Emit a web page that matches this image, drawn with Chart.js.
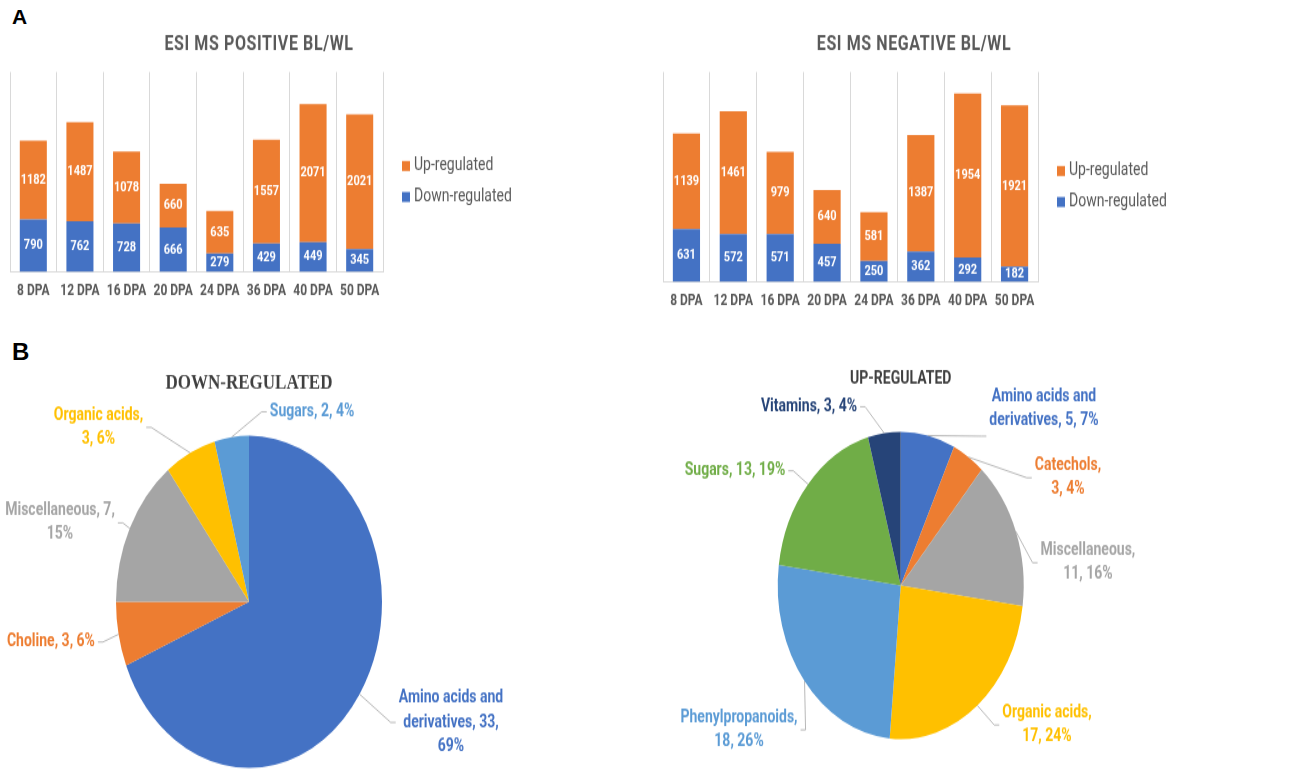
<!DOCTYPE html>
<html>
<head>
<meta charset="utf-8">
<script src="https://cdn.jsdelivr.net/npm/chart.js@4.4.1/dist/chart.umd.min.js"></script>
<style>
  body { margin: 0; background: #fff; width: 1299px; height: 781px; position: relative; overflow: hidden; }
  canvas { position: absolute; }
  .panel-letter { position: absolute; font-family: "Liberation Sans", Arial, sans-serif; font-weight: bold; color: #000; line-height: 1; }
</style>
</head>
<body>
<div class="panel-letter" style="left:12px;top:6px;font-size:21px">A</div>
<div class="panel-letter" style="left:12px;top:340px;font-size:24px">B</div>
<!-- the source figure is stretched vertically, so each canvas is drawn short and shown 1.25x taller -->
<canvas id="barPos" width="520" height="248" style="left:0;top:0;width:520px;height:310px"></canvas>
<canvas id="barNeg" width="520" height="256" style="left:655px;top:0;width:520px;height:320px"></canvas>
<canvas id="pieDown" width="530" height="353" style="left:0;top:340px;width:530px;height:441.25px"></canvas>
<canvas id="pieUp" width="500" height="353" style="left:652px;top:340px;width:500px;height:441.25px"></canvas>
<script>
const dpaLabels = ["8 DPA", "12 DPA", "16 DPA", "20 DPA", "24 DPA", "36 DPA", "40 DPA", "50 DPA"]
const posUp = [1182, 1487, 1078, 660, 635, 1557, 2071, 2021]
const posDown = [790, 762, 728, 666, 279, 429, 449, 345]
const negUp = [1139, 1461, 979, 640, 581, 1387, 1954, 1921]
const negDown = [631, 572, 571, 457, 250, 362, 292, 182]

const downClasses = ["Amino acids and derivatives", "Choline", "Miscellaneous", "Organic acids", "Sugars"]
const downCounts = [33, 3, 7, 3, 2]
const upClasses = ["Amino acids and derivatives", "Catechols", "Miscellaneous", "Organic acids", "Phenylpropanoids", "Sugars", "Vitamins"]
const upCounts = [5, 3, 11, 17, 18, 13, 3]

const BLUE = "#4472C4", ORANGE = "#ED7D31", GRAY = "#A5A5A5", GOLD = "#FFC000"
const LIGHTBLUE = "#5B9BD5", GREEN = "#70AD47", NAVY = "#264478"

Chart.defaults.font.family = "Roboto"

// value labels, title and legend for the stacked bars
const barDecor = {
  id: "barDecor",
  afterDatasetsDraw(chart, args, opts) {
    const ctx = chart.ctx
    ctx.save()
    ctx.textAlign = "center"
    ctx.textBaseline = "middle"
    ctx.font = "bold 11px Roboto"
    ctx.fillStyle = "#fff"
    chart.data.datasets.forEach((ds, di) => {
      chart.getDatasetMeta(di).data.forEach((bar, i) => {
        ctx.fillText(ds.data[i], bar.x, (bar.y + bar.base) / 2)
      })
    })

    ctx.font = "bold 16px Roboto"
    ctx.fillStyle = "#595959"
    if ("letterSpacing" in ctx) ctx.letterSpacing = "0.6px"
    ctx.fillText(opts.title, opts.titleX, opts.titleY)
    if ("letterSpacing" in ctx) ctx.letterSpacing = "0px"

    // legend lists Up-regulated first
    ctx.font = "14px Roboto"
    ctx.textAlign = "left"
    const items = [...chart.data.datasets].reverse()
    items.forEach((ds, k) => {
      const y = opts.legendY + k * opts.legendGap
      ctx.fillStyle = ds.backgroundColor
      ctx.fillRect(opts.legendX, y - 4, 8, 8)
      ctx.fillStyle = "#595959"
      ctx.fillText(ds.label, opts.legendX + 12, y)
    })
    ctx.restore()
  }
}

function wrapText(ctx, text, maxWidth) {
  const words = text.split(" ")
  const lines = []
  let line = ""
  words.forEach(w => {
    const test = line ? line + " " + w : w
    if (line && ctx.measureText(test).width > maxWidth) {
      lines.push(line)
      line = w
    } else {
      line = test
    }
  })
  if (line) lines.push(line)
  return lines
}

// outside labels with leader lines, like Excel's data callouts
const pieLabels = {
  id: "pieLabels",
  afterDatasetsDraw(chart, args, opts) {
    const ctx = chart.ctx
    const ds = chart.data.datasets[0]
    const total = ds.data.reduce((a, b) => a + b, 0)
    ctx.save()
    ctx.font = "bold 14px Roboto"
    ctx.textAlign = "center"
    ctx.textBaseline = "middle"
    chart.getDatasetMeta(0).data.forEach((arc, i) => {
      const mid = (arc.startAngle + arc.endAngle) / 2
      const ax = arc.x + arc.outerRadius * Math.cos(mid)
      const ay = arc.y + arc.outerRadius * Math.sin(mid)
      const pct = Math.round(ds.data[i] / total * 100)
      const text = `${chart.data.labels[i]}, ${ds.data[i]}, ${pct}%`
      const lines = wrapText(ctx, text, opts.wrap[i])
      const [dx, dy, attachDy = 0] = opts.offsets[i]
      const cx = ax + dx
      const cy = ay + dy
      const w = Math.max(...lines.map(l => ctx.measureText(l).width))
      const dir = dx > 0 ? 1 : -1
      const sideX = cx - dir * (w / 2 + 3)
      const sideY = cy + attachDy

      ctx.strokeStyle = "#a6a6a6"
      ctx.lineWidth = 0.8
      ctx.beginPath()
      ctx.moveTo(ax, ay)
      ctx.lineTo(sideX - dir * 5, sideY)
      ctx.lineTo(sideX, sideY)
      ctx.stroke()

      ctx.fillStyle = ds.backgroundColor[i]
      lines.forEach((l, k) => {
        ctx.fillText(l, cx, cy + (k - (lines.length - 1) / 2) * 19.2)
      })
    })
    ctx.restore()
  }
}

function makeBarChart(id, up, down, yMax, title, legendY, padding) {
  return new Chart(document.getElementById(id), {
    type: "bar",
    data: {
      labels: dpaLabels,
      datasets: [
        { label: "Down-regulated", data: down, backgroundColor: BLUE },
        { label: "Up-regulated", data: up, backgroundColor: ORANGE }
      ]
    },
    options: {
      responsive: false,
      animation: false,
      devicePixelRatio: 1,
      layout: { padding: padding },
      datasets: { bar: { categoryPercentage: 1, barPercentage: 0.58 } },
      plugins: {
        legend: { display: false },
        tooltip: { enabled: false },
        barDecor: { title: title, titleX: 259, titleY: 35.5, legendX: 402, legendY: legendY, legendGap: 24.8 }
      },
      scales: {
        x: {
          stacked: true,
          grid: { color: "#d9d9d9", drawTicks: false, offset: true },
          border: { color: "#d9d9d9" },
          ticks: {
            color: "#595959",
            font: { family: "Roboto", weight: "bold", size: 12 },
            padding: 8,
            maxRotation: 0,
            autoSkip: false
          }
        },
        y: { stacked: true, display: false, min: 0, max: yMax }
      }
    },
    plugins: [barDecor]
  })
}

function makePie(id, names, counts, colors, title, titleFont, titlePadding, padding, offsets, wrap) {
  return new Chart(document.getElementById(id), {
    type: "pie",
    data: {
      labels: names,
      datasets: [{ data: counts, backgroundColor: colors, borderWidth: 0 }]
    },
    options: {
      responsive: false,
      animation: false,
      devicePixelRatio: 1,
      layout: { padding: padding },
      plugins: {
        legend: { display: false },
        tooltip: { enabled: false },
        title: { display: true, text: title, color: "#404040", font: titleFont, padding: titlePadding },
        pieLabels: { offsets: offsets, wrap: wrap }
      }
    },
    plugins: [pieLabels]
  })
}

makeBarChart("barPos", posUp, posDown, 3000, "ESI MS POSITIVE BL/WL", 132.8,
  { left: 10, right: 137, top: 57.6, bottom: 0 })
makeBarChart("barNeg", negUp, negDown, 2500, "ESI MS NEGATIVE BL/WL", 136.8,
  { left: 8, right: 137, top: 57.6, bottom: 0 })

makePie("pieDown", downClasses, downCounts, [BLUE, ORANGE, GRAY, GOLD, LIGHTBLUE],
  "DOWN-REGULATED",
  { family: "'Liberation Serif', 'Times New Roman', serif", weight: "bold", size: 17 },
  { top: 24.2, bottom: 32 },
  { left: 116, right: 148, top: 0, bottom: 10.4 },
  [[91.4, 22.6], [-67.6, 6.2], [-69.7, -4.4], [-91.7, -20.4], [80.4, -20.3]],
  [112, 200, 120, 95, 200])

makePie("pieUp", upClasses, upCounts, [BLUE, ORANGE, GRAY, GOLD, LIGHTBLUE, GREEN, NAVY],
  "UP-REGULATED",
  { family: "Roboto", weight: "bold", size: 14 },
  { top: 22.8, bottom: 33.8 },
  { left: 125.7, right: 128.3, top: 0, bottom: 33.6 },
  [[115.9, -21.5, 22], [99.5, 16.5], [72.1, 25.1], [69.6, 15.6], [-65.5, 39], [-73.1, -10.8], [-75.2, -21.1]],
  [112, 75, 110, 100, 120, 200, 200])
</script>
</body>
</html>
